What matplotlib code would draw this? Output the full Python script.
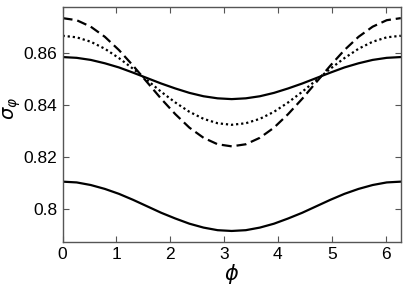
import numpy as np
import matplotlib
matplotlib.use("Agg")
import matplotlib.pyplot as plt

plt.rcParams['font.family'] = ['Liberation Sans', 'DejaVu Sans']
plt.rcParams['mathtext.fontset'] = 'dejavusans'

# phi grid (degrees, 15-degree steps), converted to radians for plotting
phi_deg = [0, 15, 30, 45, 60, 75, 90, 105, 120, 135, 150, 165, 180,
           195, 210, 225, 240, 255, 270, 285, 300, 315, 330, 345, 360]

half_solid_upper = [0.8585, 0.8582, 0.8574, 0.8561, 0.8545, 0.8525, 0.8504,
                    0.8483, 0.8464, 0.8447, 0.8434, 0.8426, 0.8423]
half_dotted = [0.8667, 0.8661, 0.8644, 0.8617, 0.8581, 0.8540, 0.8496,
               0.8451, 0.8410, 0.8374, 0.8347, 0.8330, 0.8324]
half_dashed = [0.8735, 0.8727, 0.8702, 0.8663, 0.8612, 0.8552, 0.8488,
               0.8424, 0.8365, 0.8313, 0.8274, 0.8249, 0.8241]
half_solid_lower = [0.8105, 0.8102, 0.8092, 0.8077, 0.8058, 0.8035, 0.8010,
                    0.7985, 0.7963, 0.7943, 0.7928, 0.7918, 0.7915]

def full(h):
    return h + h[-2::-1]

solid_upper = full(half_solid_upper)
dotted = full(half_dotted)
dashed = full(half_dashed)
solid_lower = full(half_solid_lower)

xticks = [0, 1, 2, 3, 4, 5, 6]
yticks = [0.80, 0.82, 0.84, 0.86]
ytick_labels = ['0.8', '0.82', '0.84', '0.86']

phi = np.deg2rad(phi_deg)

fig = plt.figure(figsize=(4.09, 2.89), dpi=100)
ax = fig.add_axes([0.153, 0.164, 0.827, 0.811])

ax.plot(phi, solid_upper, color='black', lw=1.6, ls='-')
ax.plot(phi, dotted, color='black', lw=1.6, ls=(0, (1, 1.3)))
ax.plot(phi, dashed, color='black', lw=1.6, ls=(0, (4.5, 2.2)))
ax.plot(phi, solid_lower, color='black', lw=1.6, ls='-')

ax.set_xlim(0, 2 * np.pi)
ax.set_ylim(0.7874, 0.8777)
ax.set_xticks(xticks)
ax.set_yticks(yticks)
ax.set_yticklabels(ytick_labels)
ax.tick_params(direction='in', top=True, right=True, labelsize=12.5,
               length=4, width=0.8, color='#555555', pad=4)
for s in ax.spines.values():
    s.set_color('#555555')
    s.set_linewidth(1.0)

ax.set_xlabel(r'$\phi$', fontsize=15, labelpad=0)
fig.text(12 / 409, 1 - 108 / 289, r'$\sigma_\varphi$', fontsize=14,
         rotation=90, ha='center', va='center')

fig.savefig('out.png', dpi=100)
